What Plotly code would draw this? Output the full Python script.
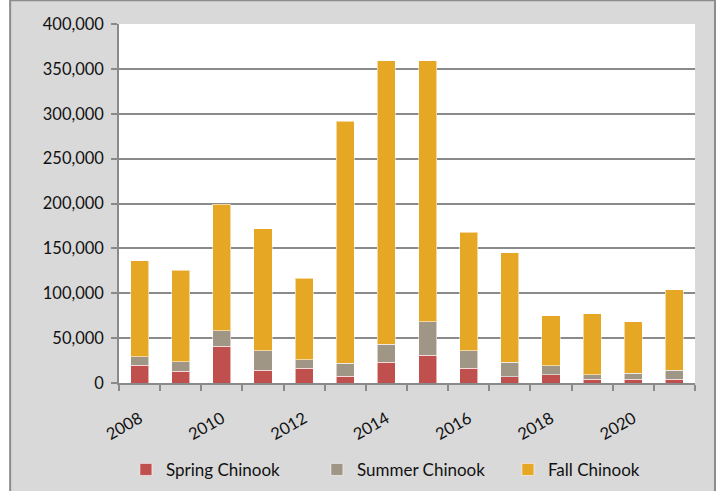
import plotly.graph_objects as go

years = [str(y) for y in range(2008, 2022)]
tick_labels = [y if int(y) % 2 == 0 else "" for y in years]

spring_chinook = [20000, 13000, 41000, 14000, 16500, 7500, 23000, 31000, 16500, 7000, 9000, 4000, 4000, 4000]
summer_chinook = [9000, 10500, 17000, 22000, 9500, 14500, 20000, 37000, 19500, 16000, 10500, 5000, 7000, 10000]
fall_chinook = [107000, 102000, 141000, 136000, 90500, 269500, 316000, 291000, 132000, 122000, 55500, 68000, 57500, 90000]

GRID = "#8a8a8a"
FONT = "Lato"

fig = go.Figure()
for name, vals, color in [
    ("Spring Chinook", spring_chinook, "#C0504D"),
    ("Summer Chinook", summer_chinook, "#A09686"),
    ("Fall Chinook", fall_chinook, "#E6A724"),
]:
    fig.add_trace(go.Bar(
        x=years, y=vals, name=name,
        marker=dict(color=color, line=dict(color="rgba(255,255,255,0.55)", width=1)),
    ))

fig.update_layout(
    barmode="stack",
    bargap=0.56,
    width=720, height=491,
    margin=dict(l=119, r=25, t=24, b=108),
    paper_bgcolor="white",
    plot_bgcolor="white",
    font=dict(family=FONT, size=16.5, color="#111111"),
    legend=dict(
        orientation="h", x=0.012, xanchor="left",
        yref="container", y=0.043, yanchor="middle",
        bgcolor="rgba(0,0,0,0)", font=dict(size=17),
        entrywidth=146, traceorder="normal",
    ),
    shapes=[
        # chart frame (grey panel with border)
        dict(type="rect", xref="paper", yref="paper",
             x0=-0.189, x1=1.0347, y0=-0.5, y1=1.066,
             fillcolor="#D9D9D9", line=dict(color="#8c8c8c", width=2), layer="below"),
        # white plot area on top of the panel
        dict(type="rect", xref="paper", yref="paper",
             x0=0, x1=1, y0=0, y1=1,
             fillcolor="white", line=dict(width=0), layer="below"),
    ],
)

fig.update_xaxes(
    type="category", automargin=False,
    tickmode="array", tickvals=years, ticktext=tick_labels,
    tickson="boundaries", ticks="outside", ticklen=6, tickcolor=GRID, tickwidth=1.5,
    tickangle=-30, ticklabelstandoff=18,
    showline=True, linecolor=GRID, linewidth=1.5,
    showgrid=False,
)
fig.update_yaxes(
    automargin=False,
    range=[0, 400000], dtick=50000, tickformat=",",
    ticks="outside", ticklen=6, tickcolor=GRID, tickwidth=1.5, ticklabelstandoff=4,
    showline=True, linecolor=GRID, linewidth=1.5,
    showgrid=True, gridcolor=GRID, gridwidth=1.5,
    zeroline=False,
)

fig.write_html(
    "out.html",
    config={"displayModeBar": False},
    post_script="document.body.style.margin='0';",
)
